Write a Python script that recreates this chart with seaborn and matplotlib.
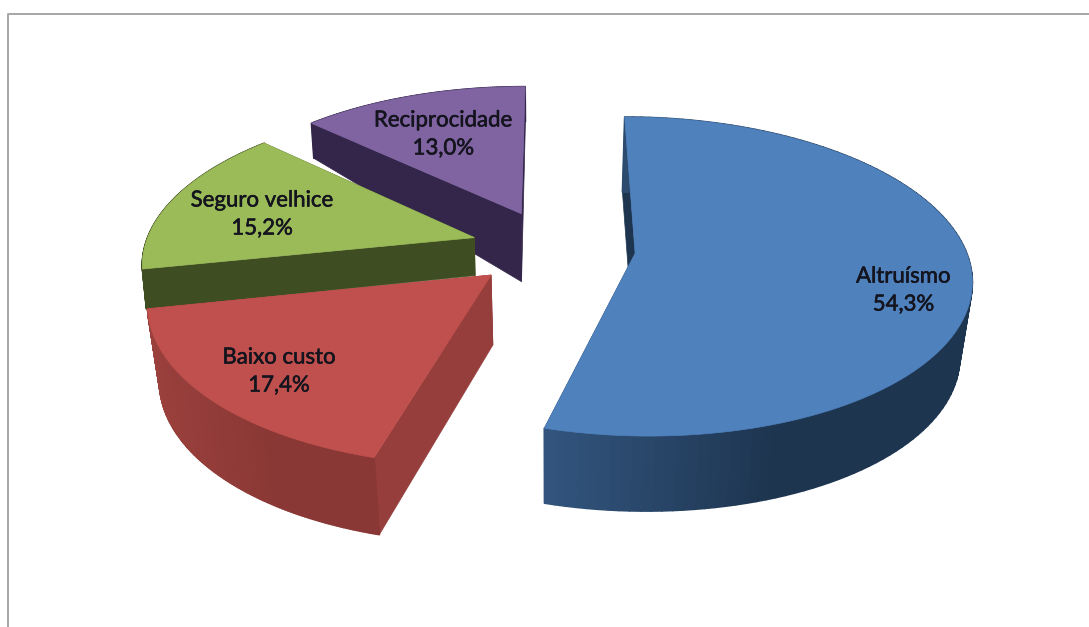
import numpy as np
import matplotlib
matplotlib.use("Agg")
import matplotlib.pyplot as plt
import matplotlib.patheffects as pe
from matplotlib.collections import PolyCollection
from matplotlib.colors import to_rgb
import seaborn as sns

# ---- data ----
categories = ["Altruísmo", "Baixo custo", "Seguro velhice", "Reciprocidade"]
values = [54.3, 17.4, 15.2, 13.0]
value_labels = ["54,3%", "17,4%", "15,2%", "13,0%"]

# ---- style ----
top_colors = sns.color_palette(["#4F81BD", "#C0504D", "#9BBB59", "#8064A2"])
wall_left = ["#33567F", "#9A403D", "#3F4E22", "#33264A"]
wall_right = ["#1E3550", "#8A3835", "#3F4E22", "#33264A"]
wall_side = ["#1E3550", "#953E3B", "#3F4E22", "#33264A"]
heights_apex = [75, 70, 38, 68]
heights_rim = [75, 77, 40, 35]
bottom_scale = [0.97, 0.97, 0.99, 0.99]
label_radius = [0.80, 0.77, 0.70, 0.69]
label_nudge = [20, 4, 5, 5]
draw_order = [3, 2, 0, 1]

# camera parameters of the 3D look
CX, CY, SX, SY, PERSP, EXPLODE, BOTTOM_X = 553, 248, 330, 154.6, 0.145, 0.25, 550

sns.set_theme(style="white")
plt.rcParams["font.family"] = ["Lato", "DejaVu Sans"]

fig = plt.figure(figsize=(10.89, 6.27), dpi=100, facecolor="white")
ax = fig.add_axes([0, 0, 1, 1])
ax.set_xlim(0, 1089)
ax.set_ylim(627, 0)
ax.axis("off")


def project(X, Y):
    X, Y = np.asarray(X, float), np.asarray(Y, float)
    w = 1 / (1 + PERSP * Y)
    return CX + SX * X * w, CY - SY * Y * w


def lower(px, py, h, scale):
    return BOTTOM_X + scale * (px - BOTTOM_X), py + h


def lerp_color(a, b, t):
    a, b = np.array(to_rgb(a)), np.array(to_rgb(b))
    return tuple(a + (b - a) * t)


fracs = np.array(values) / np.sum(values)
ends = 90 - 360 * np.cumsum(fracs)
starts = ends + 360 * fracs

for i in draw_order:
    t0, t1 = np.radians(starts[i]), np.radians(ends[i])
    mid = (t0 + t1) / 2
    ox, oy = EXPLODE * np.cos(mid), EXPLODE * np.sin(mid)
    th = np.linspace(t0, t1, 120)
    ax_, ay_ = project(ox, oy)
    rx, ry = project(ox + np.cos(th), oy + np.sin(th))
    ha, hr, sc = heights_apex[i], heights_rim[i], bottom_scale[i]

    # radial walls
    for k in (0, -1):
        bx0, by0 = lower(ax_, ay_, ha, sc)
        bx1, by1 = lower(rx[k], ry[k], hr, sc)
        ax.fill([ax_, rx[k], bx1, bx0], [ay_, ry[k], by1, by0],
                color=wall_side[i], lw=0.5, zorder=1 + draw_order.index(i))

    # outer rim wall, shaded across its width
    bx, by = lower(rx, ry, hr, sc)
    quads, cols = [], []
    xmin, xmax = rx.min(), rx.max()
    for j in range(len(th) - 1):
        quads.append([(rx[j], ry[j]), (rx[j + 1], ry[j + 1]), (bx[j + 1], by[j + 1]), (bx[j], by[j])])
        t = min(1.0, (rx[j] - xmin) / (0.55 * (xmax - xmin)))
        cols.append(lerp_color(wall_left[i], wall_right[i], t))
    ax.add_collection(PolyCollection(quads, facecolors=cols, edgecolors=cols, linewidths=1.2,
                                     zorder=1 + draw_order.index(i)))

    # top face
    ax.fill(np.r_[ax_, rx], np.r_[ay_, ry], color=top_colors[i], lw=0.5,
            zorder=1 + draw_order.index(i) + 0.1)

    # label
    lx, ly = project(ox + label_radius[i] * np.cos(mid), oy + label_radius[i] * np.sin(mid))
    ax.text(lx, ly + label_nudge[i], f"{categories[i]}\n{value_labels[i]}", ha="center", va="center",
            fontsize=16, color="#14141E", linespacing=1.5, zorder=20,
            path_effects=[pe.withStroke(linewidth=0.4, foreground="#14141E")])

# chart frame, partly cropped in the source screenshot
ax.plot([8, 8, 1089], [627, 14, 14], color="#A6A6A6", lw=1.4, zorder=0.5)

fig.savefig("out.png", dpi=100, facecolor="white")
